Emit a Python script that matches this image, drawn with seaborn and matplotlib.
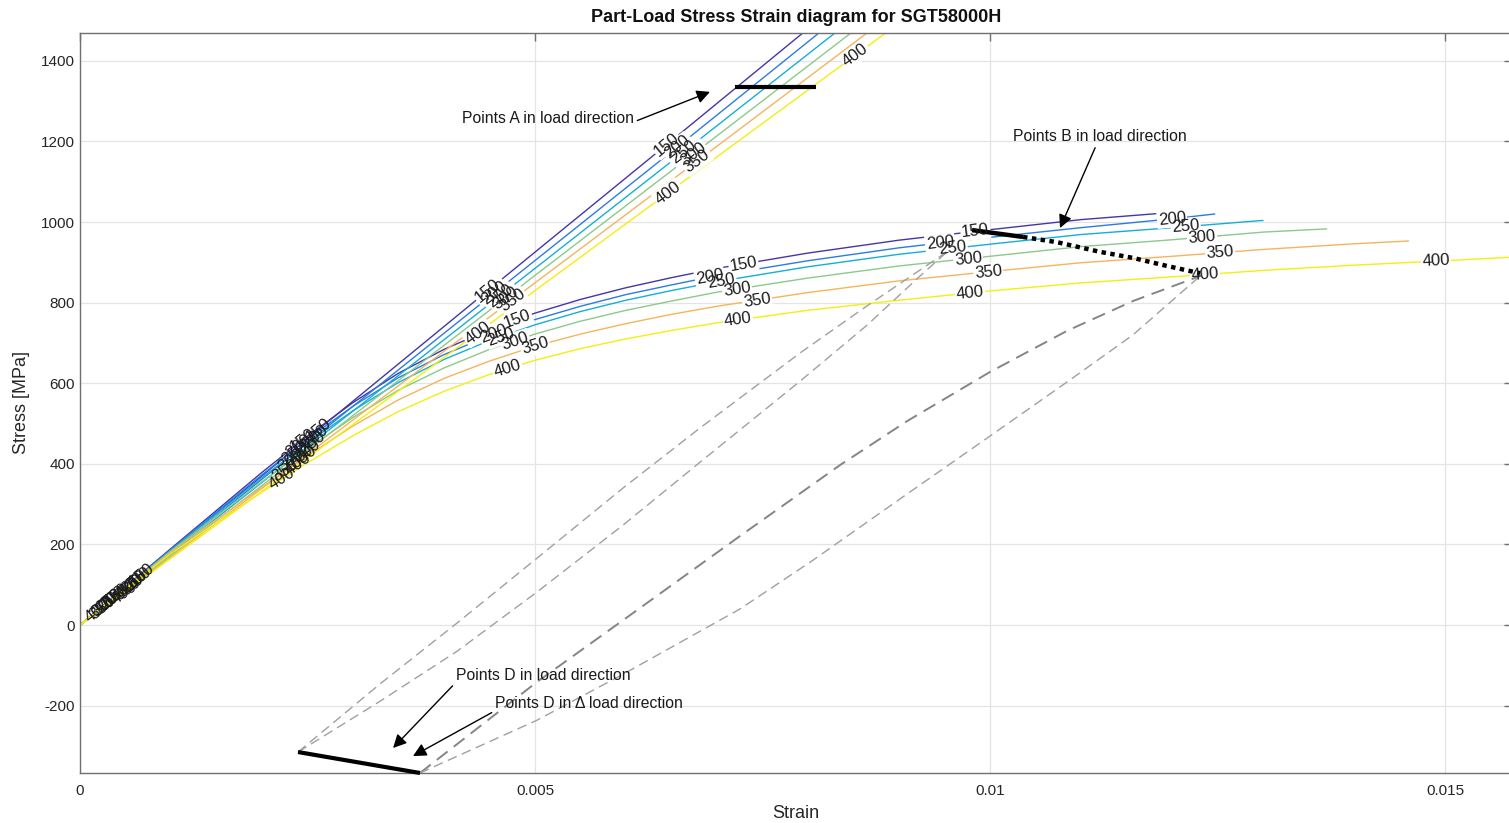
import numpy as np
import pandas as pd
import matplotlib
matplotlib.use("Agg")
import matplotlib.pyplot as plt
import seaborn as sns

sns.set_style("white")
plt.rcParams["font.family"] = ["Liberation Sans", "DejaVu Sans"]
plt.rcParams["axes.unicode_minus"] = False

temps = [150, 200, 250, 300, 350, 400]
colors = ["#4536a6", "#2a7ce0", "#15aed5", "#8cc98a", "#f5b45c", "#f3ef10"]

# Curves in load direction: strain reached at each stress level
load_stress = [0, 400, 800, 1200, 1500]
load_strain = {
    150: [0, 0.00216, 0.00432, 0.00649, 0.00811],
    200: [0, 0.00221, 0.00442, 0.00664, 0.00829],
    250: [0, 0.00226, 0.00452, 0.00678, 0.00847],
    300: [0, 0.00231, 0.00461, 0.00692, 0.00865],
    350: [0, 0.00236, 0.00471, 0.00707, 0.00883],
    400: [0, 0.00241, 0.00482, 0.00723, 0.00904],
}

# Curves in delta-load direction
base_strain = [0, 0.001, 0.002, 0.0025, 0.003, 0.0035, 0.004, 0.0045, 0.005,
               0.0055, 0.006, 0.0065, 0.007, 0.008, 0.009, 0.010, 0.011]
delta_strain = {
    150: base_strain + [0.0119],
    200: base_strain + [0.012, 0.01247],
    250: base_strain + [0.012, 0.013],
    300: base_strain + [0.012, 0.013, 0.0137],
    350: base_strain + [0.012, 0.013, 0.014, 0.0146],
    400: base_strain + [0.012, 0.013, 0.014, 0.015, 0.016],
}
delta_stress = {
    150: [0, 190, 379, 469, 552, 625, 684, 733, 774, 808, 837, 862, 885, 923, 955, 981, 1006, 1022],
    200: [0, 188, 373, 462, 543, 614, 671, 718, 758, 791, 820, 844, 867, 904, 936, 962, 986, 1008, 1020],
    250: [0, 186, 366, 452, 532, 602, 659, 706, 745, 778, 806, 830, 852, 889, 920, 945, 969, 986, 1004],
    300: [0, 184, 356, 438, 515, 583, 638, 684, 722, 754, 781, 804, 826, 861, 891, 915, 939, 956, 975, 983],
    350: [0, 182, 342, 420, 494, 559, 612, 655, 692, 722, 748, 771, 791, 825, 854, 877, 899, 915, 932, 946, 953],
    400: [0, 178, 330, 403, 470, 530, 580, 622, 657, 686, 710, 731, 750, 781, 806, 829, 849, 864, 880, 893, 904, 916],
}

# Hysteresis paths between points D and points B
loop1_strain = [0.002396, 0.003297, 0.004143, 0.005022, 0.005967, 0.006813, 0.007912, 0.008648, 0.009231, 0.009538]
loop1_upper = [-315, -146, 5, 166, 340, 489, 675, 792, 881, 928]
loop1_lower = [-315, -189, -65, 82, 248, 404, 605, 744, 866, 928]

loop2_up_strain = [0.003736, 0.005022, 0.005967, 0.007253, 0.008352, 0.009088, 0.010, 0.010846, 0.011571, 0.012308]
loop2_upper = [-367, -141, 12, 221, 397, 506, 628, 730, 804, 866]
loop2_lo_strain = [0.003736, 0.005022, 0.005967, 0.007253, 0.008055, 0.009011, 0.010, 0.010846, 0.011571, 0.012308]
loop2_lower = [-367, -236, -122, 40, 161, 313, 469, 603, 720, 866]

# Marked point sets
pts_a_strain = [0.0072, 0.00809]
pts_a_stress = [1335, 1335]
pts_b_strain = [0.009802, 0.010363, 0.010736, 0.011209, 0.011571, 0.011945, 0.012308]
pts_b_stress = [980, 963, 950, 926, 911, 891, 873]
pts_d_strain = [0.002396, 0.003736]
pts_d_stress = [-315, -367]

# Inline label positions (strain) along each curve
load_label_at = {
    150: [0.00068, 0.00262, 0.00448, 0.00645],
    200: [0.00064, 0.00258, 0.00455, 0.00656],
    250: [0.00060, 0.00255, 0.00462, 0.00663],
    300: [0.00056, 0.00250, 0.00468, 0.00674],
    350: [0.00052, 0.00246, 0.00475, 0.00678],
    400: [0.00048, 0.00240, 0.00437, 0.00646, 0.00852],
}
delta_label_at = {
    150: [0.00040, 0.00245, 0.00481, 0.00729, 0.00984],
    200: [0.00036, 0.00240, 0.00455, 0.00692, 0.00945, 0.0120],
    250: [0.00032, 0.00236, 0.00462, 0.00705, 0.00959, 0.01215],
    300: [0.00028, 0.00232, 0.00478, 0.00722, 0.00976, 0.01233],
    350: [0.00024, 0.00226, 0.00500, 0.00744, 0.00998, 0.01253],
    400: [0.00020, 0.00222, 0.00470, 0.00723, 0.00978, 0.01236, 0.0149],
}

W, H = 1509, 823
fig = plt.figure(figsize=(W / 100, H / 100), dpi=100)
ax = fig.add_axes([80 / W, (H - 773) / H, (1512 - 80) / W, (773 - 33) / H])
ax.set_xlim(0, 0.015736)
ax.set_ylim(-367, 1469)

rows = []
for t in temps:
    for e, s in zip(load_strain[t], load_stress):
        rows.append(("load", t, e, s))
    for e, s in zip(delta_strain[t], delta_stress[t]):
        rows.append(("delta", t, e, s))
df = pd.DataFrame(rows, columns=["family", "temp", "strain", "stress"])

sns.lineplot(data=df, x="strain", y="stress", hue="temp", units="family",
             estimator=None, sort=False, palette=colors, legend=False,
             linewidth=1.0, ax=ax, zorder=2)

# hysteresis paths
dash_kw = dict(color="#a0a0a0", lw=1.0, dashes=(7, 4), zorder=4)
ax.plot(loop1_strain, loop1_upper, **dash_kw)
ax.plot(loop1_strain, loop1_lower, **dash_kw)
ax.plot(loop2_up_strain, loop2_upper, color="#858585", lw=1.4, dashes=(7, 4), zorder=4)
ax.plot(loop2_lo_strain, loop2_lower, **dash_kw)

# point sets
ax.plot(pts_a_strain, pts_a_stress, color="black", lw=3, zorder=5, solid_capstyle="butt")
ax.plot(pts_b_strain[:2], pts_b_stress[:2], color="black", lw=3.2, zorder=5,
        solid_capstyle="butt")
ax.plot(pts_b_strain[1:], pts_b_stress[1:], color="black", lw=3.2, dashes=(1.0, 1.0), zorder=5)
ax.plot(pts_d_strain, pts_d_stress, color="black", lw=3, zorder=5, clip_on=False,
        solid_capstyle="butt")

ax.set_xticks([0, 0.005, 0.01, 0.015])
ax.set_xticklabels(["0", "0.005", "0.01", "0.015"])
ax.set_yticks(np.arange(-200, 1401, 200))
ax.grid(True, color="#e4e4e4", lw=0.9, zorder=0)
ax.set_axisbelow(True)
for sp in ax.spines.values():
    sp.set_color("#707070")
    sp.set_linewidth(1.0)
ax.tick_params(direction="in", length=6, width=1, colors="#707070",
               labelcolor="#262626", labelsize=11, top=True, right=True)
ax.tick_params(axis="x", pad=8)

ax.set_xlabel("Strain", fontsize=13, color="#262626", labelpad=5)
ax.set_ylabel("Stress [MPa]", fontsize=13, color="#262626", labelpad=8)
ax.set_title("Part-Load Stress Strain diagram for SGT58000H", fontsize=13,
             fontweight="bold", color="#111111", pad=8)

LBL = 12


def add_label(xs, ys, s, text, gap=True):
    ds = 0.00015
    y0, y1 = np.interp([s - ds, s + ds], xs, ys)
    p0, p1 = ax.transData.transform([(s - ds, y0), (s + ds, y1)])
    ang = np.degrees(np.arctan2(p1[1] - p0[1], p1[0] - p0[0]))
    y = float(np.interp(s, xs, ys))
    if gap:
        ax.text(s, y, text, rotation=ang, rotation_mode="anchor", ha="center",
                va="center", fontsize=LBL, color=(1, 1, 1, 0), zorder=3,
                bbox=dict(fc="white", ec="none", pad=0.8))
    ax.text(s, y, text, rotation=ang, rotation_mode="anchor", ha="center",
            va="center", fontsize=LBL, color="#1a1a1a", zorder=6)


for t in temps:
    for i, s in enumerate(load_label_at[t]):
        add_label(load_strain[t], load_stress, s, str(t), gap=i >= 2)
    for i, s in enumerate(delta_label_at[t]):
        add_label(delta_strain[t], delta_stress[t], s, str(t), gap=i >= 2)

arrow_kw = dict(arrowstyle="-|>", color="black", lw=1.0, mutation_scale=20,
                shrinkA=0, shrinkB=0)
ANN = 11.3
ax.annotate("Points A in load direction", xy=(0.006923, 1323), xytext=(0.005143, 1256),
            ha="center", va="center", fontsize=ANN, color="#1a1a1a", zorder=7,
            arrowprops=dict(relpos=(1.0, 0.3), **arrow_kw))
ax.annotate("Points B in load direction", xy=(0.010769, 985), xytext=(0.011209, 1211),
            ha="center", va="center", fontsize=ANN, color="#1a1a1a", zorder=7,
            arrowprops=dict(relpos=(0.48, 0.0), **arrow_kw))
ax.annotate("Points D in load direction", xy=(0.00344, -305), xytext=(0.005088, -124),
            ha="center", va="center", fontsize=ANN, color="#1a1a1a", zorder=7,
            arrowprops=dict(relpos=(0.0, 0.0), **arrow_kw))
ax.annotate("Points D in \u0394 load direction", xy=(0.003659, -325), xytext=(0.005593, -194),
            ha="center", va="center", fontsize=ANN, color="#1a1a1a", zorder=7,
            arrowprops=dict(relpos=(0.0, 0.0), **arrow_kw))

fig.savefig("out.png", dpi=100)
